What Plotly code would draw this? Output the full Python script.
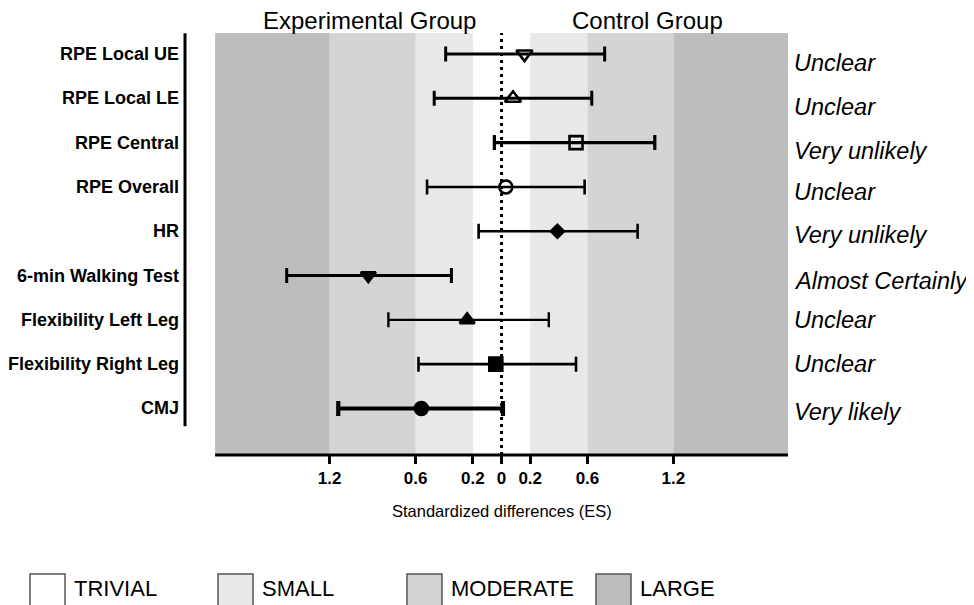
import plotly.graph_objects as go

# ---------------- data ----------------
categories = ["RPE Local UE", "RPE Local LE", "RPE Central", "RPE Overall", "HR",
              "6-min Walking Test", "Flexibility Left Leg", "Flexibility Right Leg", "CMJ"]
effect_size = [0.16, 0.08, 0.52, 0.03, 0.39, -0.93, -0.24, -0.04, -0.56]
ci_low = [-0.39, -0.47, -0.05, -0.52, -0.16, -1.50, -0.79, -0.58, -1.14]
ci_high = [0.72, 0.63, 1.07, 0.58, 0.95, -0.35, 0.33, 0.52, 0.01]
inference = ["Unclear", "Unclear", "Very unlikely", "Unclear", "Very unlikely",
             "Almost Certainly", "Unclear", "Unclear", "Very likely"]

tick_vals = [-1.2, -0.6, -0.2, 0, 0.2, 0.6, 1.2]
tick_text = ["1.2", "0.6", "0.2", "0", "0.2", "0.6", "1.2"]

zone_edges = [0.2, 0.6, 1.2, 2.0]          # trivial / small / moderate / large limits
zone_names = ["TRIVIAL", "SMALL", "MODERATE", "LARGE"]
group_titles = ["Experimental Group", "Control Group"]

# ---------------- style ----------------
zone_colors = ["#ffffff", "#e8e8e8", "#d4d4d4", "#bdbdbd"]
symbols = ["triangle-down-open", "triangle-up-open", "square-open", "circle-open",
           "diamond", "triangle-down", "triangle-up", "square", "circle"]
msizes = [14, 14, 13, 13, 10, 13, 13, 13, 13]
bar_width = [3, 3, 3.2, 2.6, 2.6, 3, 2.4, 2.6, 4.2]
label_shift = [-9, -9, -8, -5, -4, -5, 0, 0, -4]

FONT = "Liberation Sans, Arial, Helvetica, sans-serif"
OFF = 8                      # page body margin
W, H = 974 - OFF, 605 - OFF
ML, MT = 185 - OFF, 33 - OFF
PW = (788 - OFF) - ML
PH = (455 - OFF) - MT
MR, MB = W - ML - PW, H - MT - PH


def px_x(px):
    return (px - OFF - ML) / PW


def px_y(py):
    return (MT + PH - (py - OFF)) / PH


fig = go.Figure()

for i, cat in enumerate(categories):
    es = effect_size[i]
    fig.add_trace(go.Scatter(
        x=[es], y=[i], mode="markers", showlegend=False,
        marker=dict(symbol=symbols[i], size=msizes[i], color="black",
                    line=dict(color="black", width=2.6)),
        error_x=dict(type="data", symmetric=False,
                     array=[ci_high[i] - es], arrayminus=[es - ci_low[i]],
                     color="black", thickness=bar_width[i], width=7.5),
        name=cat,
    ))

shapes = []
lo = 0.0
for k, hi in enumerate(zone_edges):
    if k > 0:
        for sgn in (-1, 1):
            a, b = sorted([sgn * lo, sgn * hi])
            shapes.append(dict(type="rect", xref="x", yref="paper", x0=a, x1=b, y0=0, y1=1,
                               fillcolor=zone_colors[k], line=dict(width=0), layer="below"))
    lo = hi

shapes.append(dict(type="line", xref="x", yref="paper", x0=0, x1=0, y0=0, y1=1,
                   line=dict(color="black", width=3, dash="3px,4px"), layer="below"))
shapes.append(dict(type="line", xref="x", yref="paper", x0=-zone_edges[-1], x1=zone_edges[-1],
                   y0=0, y1=0, line=dict(color="black", width=3)))
shapes.append(dict(type="line", xref="paper", yref="y", x0=0, x1=0, y0=-0.47, y1=8.4,
                   line=dict(color="black", width=3)))

annotations = []
for i, cat in enumerate(categories):
    annotations.append(dict(xref="paper", yref="y", x=0, y=i, xanchor="right", yanchor="middle",
                            xshift=-4, text=cat, showarrow=False,
                            font=dict(family=FONT, size=18, color="black", weight="bold")))
    annotations.append(dict(xref="paper", yref="y", x=1, y=i, xanchor="left", yanchor="middle",
                            xshift=4, yshift=label_shift[i], text=inference[i], showarrow=False,
                            font=dict(family=FONT, size=23.5, color="black", style="italic")))

annotations.append(dict(xref="x", yref="paper", x=-0.92, y=px_y(20), text=group_titles[0],
                        showarrow=False, xanchor="center", yanchor="middle",
                        font=dict(family=FONT, size=24, color="black")))
annotations.append(dict(xref="x", yref="paper", x=1.02, y=px_y(20), text=group_titles[1],
                        showarrow=False, xanchor="center", yanchor="middle",
                        font=dict(family=FONT, size=24, color="black")))
annotations.append(dict(xref="x", yref="paper", x=0, y=px_y(511),
                        text="Standardized differences (ES)", showarrow=False,
                        xanchor="center", yanchor="middle",
                        font=dict(family=FONT, size=16.5, color="black")))

box_left = [30, 218, 407, 596]
for k, name in enumerate(zone_names):
    x0 = box_left[k]
    shapes.append(dict(type="rect", xref="paper", yref="paper",
                       x0=px_x(x0), x1=px_x(x0 + 35), y0=px_y(574), y1=px_y(612),
                       fillcolor=zone_colors[k], line=dict(color="#555555", width=1.5)))
    annotations.append(dict(xref="paper", yref="paper", x=px_x(x0 + 42), y=px_y(588),
                            text=name, showarrow=False, xanchor="left", yanchor="middle",
                            font=dict(family=FONT, size=22, color="black")))

fig.update_layout(
    width=W, height=H,
    margin=dict(l=ML, r=MR, t=MT, b=MB),
    paper_bgcolor="white", plot_bgcolor="rgba(0,0,0,0)",
    shapes=shapes, annotations=annotations,
    xaxis=dict(range=[-2.21, 2.0], tickvals=tick_vals, ticktext=tick_text,
               ticks="outside", ticklen=8, tickwidth=3, tickcolor="black",
               tickfont=dict(family=FONT, size=17, color="black", weight="bold"),
               showgrid=False, zeroline=False, showline=False, fixedrange=True),
    yaxis=dict(range=[9.05, -0.474], showticklabels=False, ticks="",
               showgrid=False, zeroline=False, showline=False, fixedrange=True),
    showlegend=False,
)

fig.write_html("out.html")
